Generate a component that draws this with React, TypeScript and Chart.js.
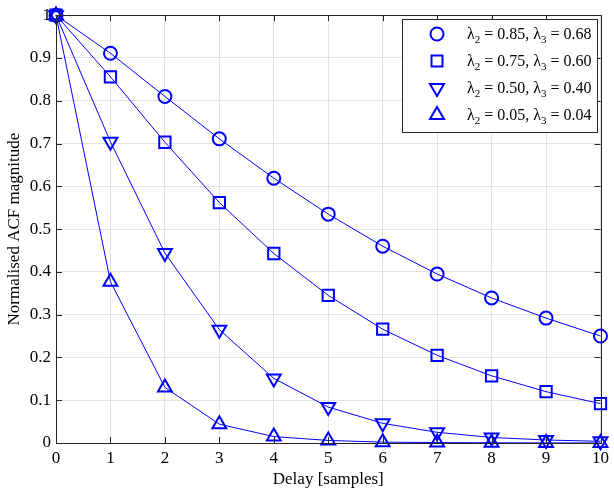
import React, { useEffect, useRef } from "react";
import { Chart, registerables } from "chart.js";

Chart.register(...registerables);

const delays = [0, 1, 2, 3, 4, 5, 6, 7, 8, 9, 10];
const seriesA = [1, 0.911, 0.81, 0.711, 0.619, 0.535, 0.46, 0.395, 0.339, 0.292, 0.25];
const seriesB = [1, 0.856, 0.703, 0.562, 0.443, 0.345, 0.266, 0.205, 0.157, 0.12, 0.092];
const seriesC = [1, 0.704, 0.444, 0.265, 0.151, 0.084, 0.046, 0.025, 0.013, 0.007, 0.004];
const seriesD = [1, 0.377, 0.13, 0.044, 0.015, 0.006, 0.002, 0.001, 0.0005, 0.0002, 0.0001];
const legendLabels = [
  ["0.85", "0.68"],
  ["0.75", "0.60"],
  ["0.50", "0.40"],
  ["0.05", "0.04"],
];
const xTicks = [0, 1, 2, 3, 4, 5, 6, 7, 8, 9, 10];
const yTicks = [0, 0.1, 0.2, 0.3, 0.4, 0.5, 0.6, 0.7, 0.8, 0.9, 1];

const BLUE = "#0000ff";
const FONT = "'Liberation Serif', 'Times New Roman', serif";

const styles = [
  { pointStyle: "circle", radius: 6.5, rotation: 0 },
  { pointStyle: "rect", radius: 8, rotation: 0 },
  { pointStyle: "triangle", radius: 8, rotation: 180 },
  { pointStyle: "triangle", radius: 8, rotation: 0 },
];

const boxPlugin = {
  id: "boxPlugin",
  afterDatasetsDraw(chart: any) {
    const { ctx, chartArea } = chart;
    const { left, right, top, bottom } = chartArea;
    const xs = chart.scales.x;
    const ys = chart.scales.y;
    ctx.save();
    ctx.strokeStyle = "#262626";
    ctx.lineWidth = 1;
    const tl = 6;
    ctx.beginPath();
    xTicks.forEach((t) => {
      const px = Math.round(xs.getPixelForValue(t)) + 0.5;
      ctx.moveTo(px, bottom);
      ctx.lineTo(px, bottom - tl);
      ctx.moveTo(px, top);
      ctx.lineTo(px, top + tl);
    });
    yTicks.forEach((t) => {
      const py = Math.round(ys.getPixelForValue(t)) + 0.5;
      ctx.moveTo(left, py);
      ctx.lineTo(left + tl, py);
      ctx.moveTo(right, py);
      ctx.lineTo(right - tl, py);
    });
    ctx.stroke();
    ctx.strokeRect(Math.round(left) + 0.5, Math.round(top) + 0.5, Math.round(right - left), Math.round(bottom - top));
    ctx.restore();
  },
  afterDraw(chart: any) {
    const { ctx } = chart;
    ctx.save();
    const bx = 402.5, by = 19.5, bw = 195, bh = 113;
    ctx.fillStyle = "#ffffff";
    ctx.fillRect(bx, by, bw, bh);
    ctx.strokeStyle = "#262626";
    ctx.lineWidth = 1;
    ctx.strokeRect(bx, by, bw, bh);
    const rows = [34, 61, 88, 115];
    legendLabels.forEach((lab, i) => {
      const cy = rows[i];
      const st = styles[i];
      ctx.strokeStyle = BLUE;
      ctx.lineWidth = 2;
      ctx.beginPath();
      const cx = 437;
      if (st.pointStyle === "circle") {
        ctx.arc(cx, cy, 6.5, 0, Math.PI * 2);
      } else if (st.pointStyle === "rect") {
        ctx.rect(cx - 5.5, cy - 5.5, 11, 11);
      } else if (st.rotation === 180) {
        ctx.moveTo(cx - 7, cy - 4);
        ctx.lineTo(cx + 7, cy - 4);
        ctx.lineTo(cx, cy + 8);
        ctx.closePath();
      } else {
        ctx.moveTo(cx - 7, cy + 4);
        ctx.lineTo(cx + 7, cy + 4);
        ctx.lineTo(cx, cy - 8);
        ctx.closePath();
      }
      ctx.stroke();
      ctx.fillStyle = "#000000";
      ctx.textBaseline = "alphabetic";
      const base = cy + 5;
      let x = 467;
      const big = "16px " + FONT;
      const small = "11px " + FONT;
      const parts: [string, boolean][] = [
        ["λ", false], ["2", true], [" = " + lab[0] + ", λ", false], ["3", true], [" = " + lab[1], false],
      ];
      parts.forEach(([txt, sub]) => {
        ctx.font = sub ? small : big;
        ctx.fillText(txt, x, sub ? base + 4 : base);
        x += ctx.measureText(txt).width;
      });
    });
    ctx.restore();
  },
};

export default function App() {
  const ref = useRef<HTMLCanvasElement>(null);
  useEffect(() => {
    if (!ref.current) return;
    const sets = [seriesA, seriesB, seriesC, seriesD];
    const chart = new Chart(ref.current, {
      type: "line",
      data: {
        labels: delays,
        datasets: sets.map((s, i) => ({
          data: delays.map((d, j) => ({ x: d, y: s[j] })),
          borderColor: BLUE,
          borderWidth: 1,
          pointStyle: styles[i].pointStyle as any,
          pointRadius: styles[i].radius,
          pointRotation: styles[i].rotation,
          pointBorderColor: BLUE,
          pointBackgroundColor: "rgba(0,0,0,0)",
          pointBorderWidth: 2,
          fill: false,
          tension: 0,
          clip: false as any,
        })),
      },
      options: {
        animation: false,
        responsive: false,
        layout: { padding: { top: 12, right: 11, left: 0, bottom: 0 } },
        plugins: { legend: { display: false }, tooltip: { enabled: false } },
        scales: {
          x: {
            type: "linear",
            min: 0,
            max: 10,
            afterBuildTicks: (s: any) => { s.ticks = xTicks.map((v) => ({ value: v })); },
            afterFit: (s: any) => { s.height = 51; },
            ticks: { font: { family: FONT, size: 17 }, color: "#000", padding: 5, maxRotation: 0 },
            grid: { color: "#e3e3e3", drawTicks: false },
            border: { display: true, color: "#262626" },
            title: { display: true, text: "Delay [samples]", font: { family: FONT, size: 17 }, color: "#000", padding: { top: 0, bottom: 4 } },
          },
          y: {
            type: "linear",
            min: 0,
            max: 1,
            afterBuildTicks: (s: any) => { s.ticks = yTicks.map((v) => ({ value: v })); },
            afterFit: (s: any) => { s.width = 56; },
            ticks: {
              font: { family: FONT, size: 17 },
              color: "#000",
              padding: 5,
              callback: (v: any) => String(Number(Number(v).toFixed(1))),
            },
            grid: { color: "#e3e3e3", drawTicks: false },
            border: { display: true, color: "#262626" },
            title: { display: true, text: "Normalised ACF magnitude", font: { family: FONT, size: 17 }, color: "#000", padding: { top: 4, bottom: 0 } },
          },
        },
      },
      plugins: [boxPlugin],
    });
    return () => chart.destroy();
  }, []);
  return (
    <div style={{ position: "fixed", left: 0, top: 0, width: 614, height: 494, background: "#fff" }}>
      <canvas ref={ref} width={614} height={494} style={{ width: 614, height: 494 }} />
    </div>
  );
}
